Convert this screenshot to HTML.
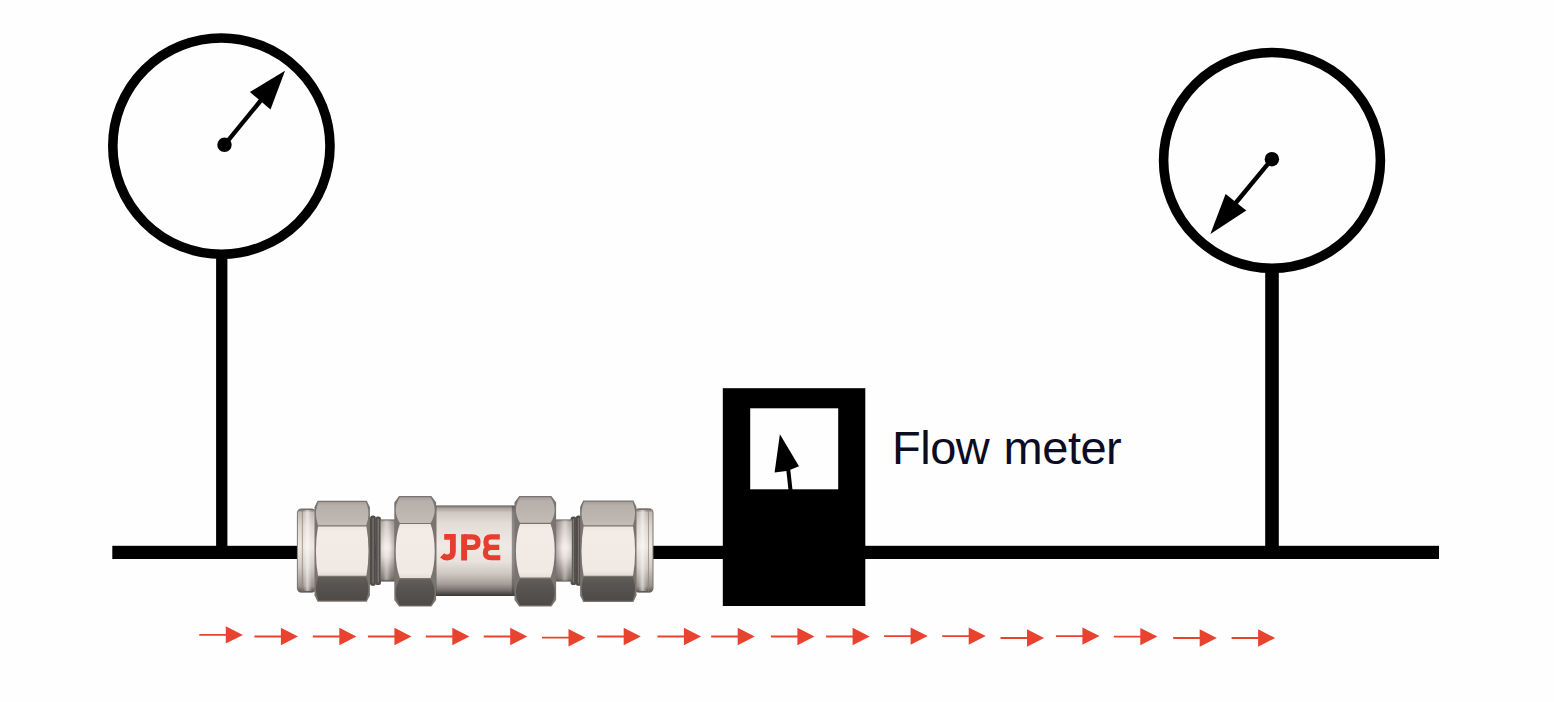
<!DOCTYPE html>
<html><head><meta charset="utf-8"><title>Flow test diagram</title>
<style>
html,body{margin:0;padding:0;background:#fefefe;}
body{width:1554px;height:702px;overflow:hidden;position:relative;font-family:"Liberation Sans",sans-serif;}
svg{position:absolute;left:0;top:0;display:block;filter:blur(0.4px);}
.lbl{position:absolute;left:892px;top:421px;font-size:47px;line-height:54px;color:#0c0c22;white-space:nowrap;letter-spacing:-0.5px;word-spacing:1.8px;}
</style></head><body>
<svg width="1554" height="702" viewBox="0 0 1554 702">
<defs>
<linearGradient id="gBody" x1="0" y1="0" x2="0" y2="1">
<stop offset="0" stop-color="#645f5b"/><stop offset="0.03" stop-color="#a8a19c"/><stop offset="0.08" stop-color="#cfc8c2"/>
<stop offset="0.2" stop-color="#e3ddd7"/><stop offset="0.45" stop-color="#f0eae5"/><stop offset="0.62" stop-color="#e8e2dc"/>
<stop offset="0.76" stop-color="#cdc6c0"/><stop offset="0.87" stop-color="#a39c97"/><stop offset="0.935" stop-color="#78726e"/><stop offset="0.975" stop-color="#4f4b48"/><stop offset="1" stop-color="#3a3735"/>
</linearGradient>
<linearGradient id="gCap" x1="0" y1="0" x2="0" y2="1">
<stop offset="0" stop-color="#6f6965"/><stop offset="0.04" stop-color="#c2bab3"/><stop offset="0.2" stop-color="#ddd5cd"/>
<stop offset="0.45" stop-color="#efe8e1"/><stop offset="0.7" stop-color="#d2cac3"/><stop offset="0.93" stop-color="#9a938d"/><stop offset="1" stop-color="#5c5754"/>
</linearGradient>
<linearGradient id="gNeck" x1="0" y1="0" x2="0" y2="1">
<stop offset="0" stop-color="#6e6864"/><stop offset="0.04" stop-color="#bdb6b0"/><stop offset="0.25" stop-color="#d8d1cb"/>
<stop offset="0.45" stop-color="#f0eae5"/><stop offset="0.6" stop-color="#e0d9d3"/><stop offset="0.8" stop-color="#aaa39e"/><stop offset="0.95" stop-color="#868079"/><stop offset="1" stop-color="#5c5754"/>
</linearGradient>
<linearGradient id="gEdgeR" x1="0" y1="0" x2="1" y2="0">
<stop offset="0" stop-color="#4a4542" stop-opacity="0.12"/><stop offset="0.25" stop-color="#4a4542" stop-opacity="0"/><stop offset="0.6" stop-color="#4a4542" stop-opacity="0"/><stop offset="1" stop-color="#4a4542" stop-opacity="0.4"/>
</linearGradient>
<linearGradient id="gEdgeL" x1="1" y1="0" x2="0" y2="0">
<stop offset="0" stop-color="#4a4542" stop-opacity="0.12"/><stop offset="0.25" stop-color="#4a4542" stop-opacity="0"/><stop offset="0.6" stop-color="#4a4542" stop-opacity="0"/><stop offset="1" stop-color="#4a4542" stop-opacity="0.4"/>
</linearGradient>
<linearGradient id="gTop" x1="0" y1="0" x2="0" y2="1">
<stop offset="0" stop-color="#a59e9a"/><stop offset="0.15" stop-color="#b6afaa"/><stop offset="0.7" stop-color="#bdb6b1"/><stop offset="1" stop-color="#c3bcb7"/>
</linearGradient>
<linearGradient id="gMid" x1="0" y1="0" x2="0" y2="1">
<stop offset="0" stop-color="#ede6e0"/><stop offset="0.1" stop-color="#f3ece6"/><stop offset="0.9" stop-color="#f1e9e3"/><stop offset="1" stop-color="#e4dcd6"/>
</linearGradient>
<linearGradient id="gBot" x1="0" y1="0" x2="0" y2="1">
<stop offset="0" stop-color="#625e5b"/><stop offset="0.3" stop-color="#595553"/><stop offset="1" stop-color="#4e4a48"/>
</linearGradient>
<linearGradient id="gShine" x1="0" y1="0" x2="1" y2="0">
<stop offset="0" stop-color="#fff" stop-opacity="0"/><stop offset="0.5" stop-color="#fff" stop-opacity="0.55"/><stop offset="1" stop-color="#fff" stop-opacity="0"/>
</linearGradient>
</defs>

<!-- main pipe -->
<rect x="112.3" y="545.8" width="1326.7" height="13.2" fill="#000"/>
<!-- gauge stems -->
<rect x="216.1" y="255" width="11.3" height="292" fill="#000"/>
<rect x="1265.2" y="268" width="13.6" height="279" fill="#000"/>
<!-- gauges -->
<ellipse cx="221.4" cy="146.1" rx="108.6" ry="108.1" fill="#fefefe" stroke="#000" stroke-width="9.6"/>
<ellipse cx="1272" cy="160.4" rx="108.4" ry="107.9" fill="#fefefe" stroke="#000" stroke-width="9.6"/>
<!-- left needle -->
<circle cx="224.5" cy="144.8" r="7.2" fill="#000"/>
<line x1="224.5" y1="144.8" x2="262" y2="99" stroke="#000" stroke-width="4.4"/>
<path d="M285,70.7 L249.9,92 L270.5,109.6 Z" fill="#000"/>
<!-- right needle -->
<circle cx="1271.9" cy="159.2" r="7.2" fill="#000"/>
<line x1="1271.9" y1="159.2" x2="1234" y2="205" stroke="#000" stroke-width="4.4"/>
<path d="M1210.4,234 L1225.6,194.1 L1246.3,210.5 Z" fill="#000"/>

<!-- flow meter -->
<rect x="722.8" y="388.2" width="142.5" height="217.8" fill="#000"/>
<rect x="750.2" y="408.3" width="88" height="81" fill="#fefefe"/>
<path d="M779.9,434.2 L774.6,472.6 L786.4,471.1 L788.5,490 L792.5,490 L790.3,469.8 L799,466.2 Z" fill="#000"/>

<!-- valve -->
<g>
<!-- left cap -->
<rect x="296.9" y="508.4" width="19" height="84.4" rx="4.5" ry="4.5" fill="#77716d"/>
<rect x="297.8" y="509.3" width="18" height="82.6" rx="4" ry="4" fill="url(#gCap)"/>
<rect x="303" y="510" width="9" height="81" fill="url(#gShine)"/>
<rect x="301.9" y="509.5" width="0.9" height="82" fill="#8d8682" opacity="0.8"/>
<!-- right cap -->
<rect x="634.5" y="508.2" width="19" height="84.6" rx="4.5" ry="4.5" fill="#77716d"/>
<rect x="634.5" y="509.1" width="18" height="82.8" rx="4" ry="4" fill="url(#gCap)"/>
<rect x="638" y="510" width="9" height="81" fill="url(#gShine)"/>
<rect x="648" y="509.5" width="0.9" height="82" fill="#8d8682" opacity="0.8"/>
<!-- threads left -->
<rect x="366" y="517" width="6" height="67.4" rx="2" fill="#5a5552"/>
<rect x="370.2" y="515.6" width="5.6" height="70.2" rx="2.6" fill="#4f4b48"/>
<rect x="375.2" y="516.6" width="5.8" height="68.4" rx="2.6" fill="#54504d"/>
<rect x="372.4" y="518" width="1.3" height="65.5" fill="#85807b" opacity="0.8"/><rect x="377.6" y="519" width="1.3" height="63.5" fill="#85807b" opacity="0.8"/>
<!-- threads right -->
<rect x="579.5" y="517" width="6" height="67.4" rx="2" fill="#5a5552"/>
<rect x="575.8" y="515.6" width="5.6" height="70.2" rx="2.6" fill="#4f4b48"/>
<rect x="570.6" y="516.6" width="5.8" height="68.4" rx="2.6" fill="#54504d"/>
<rect x="577.9" y="518" width="1.3" height="65.5" fill="#85807b" opacity="0.8"/><rect x="572.7" y="519" width="1.3" height="63.5" fill="#85807b" opacity="0.8"/>
<!-- necks -->
<rect x="380.6" y="519.4" width="16" height="62.2" fill="url(#gNeck)"/>
<rect x="380.6" y="520.2" width="15" height="60.6" fill="url(#gEdgeR)"/>
<rect x="382.5" y="520.5" width="8" height="59.6" fill="url(#gShine)" opacity="0.6"/>
<rect x="554" y="519.4" width="17.8" height="62.2" fill="url(#gNeck)"/>
<rect x="555.6" y="520.2" width="16.2" height="60.6" fill="url(#gEdgeL)"/>
<rect x="561" y="520.2" width="8" height="60.5" fill="url(#gShine)" opacity="0.6"/>
<!-- body -->
<rect x="434" y="505.4" width="82.5" height="90.6" fill="url(#gBody)"/>
<rect x="511.8" y="506" width="3.4" height="89.6" fill="#45413e" opacity="0.55"/>
<rect x="435.2" y="506" width="1.4" height="89.6" fill="#45413e" opacity="0.5"/>
<path d="M317.6,500.8 H366.8 L369.9,507.3 V595.2 L366.8,601.7 H317.6 L314.5,595.2 V507.3 Z" fill="#7a746f"/>
<path d="M318.4,502.0 H366.0 Q368.5,508.3 368.5,513.6 Q368.5,518.9 366.4,525.3 H318.0 Q315.9,518.9 315.9,513.6 Q315.9,508.3 318.4,502.0 Z" fill="url(#gTop)"/>
<path d="M318.0,526.5 H366.4 Q368.5,537.9 368.5,551.1 Q368.5,564.3 366.4,575.7 H318.0 Q315.9,564.3 315.9,551.1 Q315.9,537.9 318.0,526.5 Z" fill="url(#gMid)"/>
<path d="M318.0,576.9 H366.4 Q368.5,583.3 368.5,588.8 Q368.5,594.2 366.0,600.5 H318.4 Q315.9,594.2 315.9,588.8 Q315.9,583.3 318.0,576.9 Z" fill="url(#gBot)"/>
<path d="M399.0,496.0 H431.4 L436.1,502.5 V600.1 L431.4,606.6 H399.0 L394.3,600.1 V502.5 Z" fill="#7a746f"/>
<path d="M399.8,497.2 H430.6 Q434.7,503.5 434.7,510.0 Q434.7,516.5 430.6,522.9 H399.8 Q395.7,516.5 395.7,510.0 Q395.7,503.5 399.8,497.2 Z" fill="url(#gTop)"/>
<path d="M399.8,524.1 H430.6 Q434.7,535.5 434.7,551.1 Q434.7,566.7 430.6,578.1 H399.8 Q395.7,566.7 395.7,551.1 Q395.7,535.5 399.8,524.1 Z" fill="url(#gMid)"/>
<path d="M399.8,579.3 H430.6 Q434.7,585.7 434.7,592.4 Q434.7,599.1 430.6,605.4 H399.8 Q395.7,599.1 395.7,592.4 Q395.7,585.7 399.8,579.3 Z" fill="url(#gBot)"/>
<path d="M519.2,496.1 H551.4 L556.1,502.6 V599.9 L551.4,606.4 H519.2 L514.5,599.9 V502.6 Z" fill="#7a746f"/>
<path d="M520.0,497.3 H550.6 Q554.7,503.6 554.7,510.0 Q554.7,516.4 550.6,522.8 H520.0 Q515.9,516.4 515.9,510.0 Q515.9,503.6 520.0,497.3 Z" fill="url(#gTop)"/>
<path d="M520.0,524.0 H550.6 Q554.7,535.4 554.7,550.8 Q554.7,566.2 550.6,577.6 H520.0 Q515.9,566.2 515.9,550.8 Q515.9,535.4 520.0,524.0 Z" fill="url(#gMid)"/>
<path d="M520.0,578.8 H550.6 Q554.7,585.2 554.7,592.0 Q554.7,598.9 550.6,605.2 H520.0 Q515.9,598.9 515.9,592.0 Q515.9,585.2 520.0,578.8 Z" fill="url(#gBot)"/>
<path d="M583.2,500.5 H633.4 L636.5,507.0 V595.4 L633.4,601.9 H583.2 L580.1,595.4 V507.0 Z" fill="#7a746f"/>
<path d="M584.0,501.7 H632.6 Q635.1,508.0 635.1,513.5 Q635.1,518.9 633.0,525.3 H583.6 Q581.5,518.9 581.5,513.5 Q581.5,508.0 584.0,501.7 Z" fill="url(#gTop)"/>
<path d="M583.6,526.5 H633.0 Q635.1,537.9 635.1,551.1 Q635.1,564.3 633.0,575.7 H583.6 Q581.5,564.3 581.5,551.1 Q581.5,537.9 583.6,526.5 Z" fill="url(#gMid)"/>
<path d="M583.6,576.9 H633.0 Q635.1,583.3 635.1,588.8 Q635.1,594.4 632.6,600.7 H584.0 Q581.5,594.4 581.5,588.8 Q581.5,583.3 583.6,576.9 Z" fill="url(#gBot)"/>
<!-- JPE -->
<g fill="none" stroke="#e63d2e" stroke-linejoin="miter">
<path d="M444.2,536.9 H452.9 V551.6 Q452.9,557.5 447.2,557.5 Q444.2,557.5 442.1,555.4" stroke-width="5.8"/>
<path d="M464.1,534.3 V560.5" stroke-width="5.9"/>
<path d="M464.1,536.9 H472 Q478,536.9 478,542.2 Q478,547.5 472,547.5 H464.1" stroke-width="5.2"/>
<path d="M499.8,536.9 H490.8 Q485.9,536.9 485.9,541.9 Q485.9,547.4 491.6,547.4 H499.3 M491.6,547.4 Q485.4,547.4 485.4,552.6 Q485.4,557.8 490.8,557.8 H500.3" stroke-width="5.1"/>
</g>
</g>

<!-- flow arrows -->
<g fill="#e8432e">
<path d="M199.3,634.0 H225.8 V626.2 L242.9,634.9 L225.8,643.6 V635.8 H199.3 Z"/>
<path d="M254.4,635.6 H280.9 V627.8 L298.0,636.5 L280.9,645.2 V637.4 H254.4 Z"/>
<path d="M312.8,635.6 H339.3 V627.8 L356.4,636.5 L339.3,645.2 V637.4 H312.8 Z"/>
<path d="M367.9,635.6 H394.4 V627.8 L411.5,636.5 L394.4,645.2 V637.4 H367.9 Z"/>
<path d="M425.8,635.6 H452.3 V627.8 L469.4,636.5 L452.3,645.2 V637.4 H425.8 Z"/>
<path d="M483.7,635.6 H510.2 V627.8 L527.3,636.5 L510.2,645.2 V637.4 H483.7 Z"/>
<path d="M542.0,636.8 H568.5 V629.0 L585.6,637.7 L568.5,646.4 V638.6 H542.0 Z"/>
<path d="M597.2,635.6 H623.7 V627.8 L640.8,636.5 L623.7,645.2 V637.4 H597.2 Z"/>
<path d="M657.4,635.6 H683.9 V627.8 L701.0,636.5 L683.9,645.2 V637.4 H657.4 Z"/>
<path d="M711.2,635.6 H737.7 V627.8 L754.8,636.5 L737.7,645.2 V637.4 H711.2 Z"/>
<path d="M770.9,635.6 H797.4 V627.8 L814.5,636.5 L797.4,645.2 V637.4 H770.9 Z"/>
<path d="M826.1,635.6 H852.6 V627.8 L869.7,636.5 L852.6,645.2 V637.4 H826.1 Z"/>
<path d="M884.1,635.2 H910.6 V627.4 L927.7,636.1 L910.6,644.8 V637.0 H884.1 Z"/>
<path d="M942.2,635.2 H968.7 V627.4 L985.8,636.1 L968.7,644.8 V637.0 H942.2 Z"/>
<path d="M1000.5,637.1 H1027.0 V629.3 L1044.1,638.0 L1027.0,646.7 V638.9 H1000.5 Z"/>
<path d="M1055.9,635.2 H1082.4 V627.4 L1099.5,636.1 L1082.4,644.8 V637.0 H1055.9 Z"/>
<path d="M1113.8,635.7 H1140.3 V627.9 L1157.4,636.6 L1140.3,645.3 V637.5 H1113.8 Z"/>
<path d="M1173.2,637.1 H1199.7 V629.3 L1216.8,638.0 L1199.7,646.7 V638.9 H1173.2 Z"/>
<path d="M1231.6,637.1 H1258.1 V629.3 L1275.2,638.0 L1258.1,646.7 V638.9 H1231.6 Z"/>
</g>
</svg>
<div class="lbl">Flow meter</div>
</body></html>
